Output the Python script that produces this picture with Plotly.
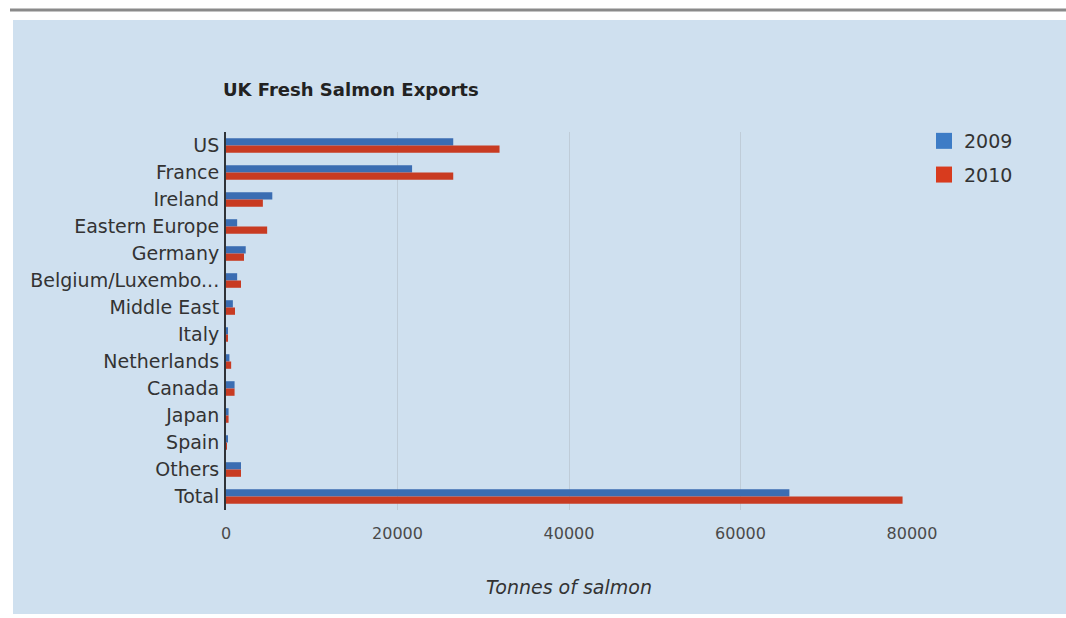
import plotly.graph_objects as go

categories = ["US", "France", "Ireland", "Eastern Europe", "Germany", "Belgium/Luxembo...",
              "Middle East", "Italy", "Netherlands", "Canada", "Japan", "Spain", "Others", "Total"]
exports_2009 = [26500, 21700, 5400, 1300, 2300, 1300, 800, 200, 400, 1000, 300, 200, 1750, 65700]
exports_2010 = [31900, 26500, 4300, 4800, 2100, 1750, 1050, 200, 600, 1000, 300, 50, 1750, 78900]
x_ticks = [0, 20000, 40000, 60000, 80000]
series_names = ["2009", "2010"]

W, H = 1066, 618
L, R, T, B = 226, 912, 132, 510
FONT = "DejaVu Sans, Verdana, sans-serif"
BAR_COLORS = ["#3b6db2", "#c83b22"]
KEY_COLORS = ["#3d7cc6", "#d83b1e"]

def px(x):
    return (x - L) / (R - L)

def py(y):
    return (B - y) / (B - T)

fig = go.Figure()
for name, vals, bc in zip(series_names, [exports_2009, exports_2010], BAR_COLORS):
    fig.add_trace(go.Bar(y=categories, x=vals, orientation="h", name=name,
                         marker=dict(color=bc, line=dict(width=0)), showlegend=False))
# legend keys (larger square swatches like the original)
for i, (name, kc) in enumerate(zip(series_names, KEY_COLORS)):
    fig.add_trace(go.Scatter(x=[None], y=[None], mode="markers", name=name,
                             marker=dict(symbol="square", size=16, color=kc),
                             legendgroup=f"g{i}", showlegend=True))

fig.update_layout(
    width=W, height=H,
    margin=dict(l=L, r=W - R, t=T, b=H - B, autoexpand=False),
    paper_bgcolor="white",
    plot_bgcolor="rgba(0,0,0,0)",
    barmode="group",
    bargap=0.46,
    bargroupgap=0.0,
    font=dict(family=FONT, size=16, color="#333"),
    xaxis=dict(range=[0, 80000], tickvals=x_ticks, tickformat="d",
               showgrid=True, gridcolor="#bfccd8", gridwidth=1, zeroline=False,
               showline=False, ticks="", ticklabelstandoff=12,
               tickfont=dict(family=FONT, size=16, color="#4a4a4a"),
               title=dict(text="Tonnes of salmon",
                          font=dict(family=FONT, size=19, color="#333", style="italic"),
                          standoff=38)),
    yaxis=dict(autorange="reversed", showgrid=False, zeroline=False,
               showline=True, linecolor="#2f3338", linewidth=2, ticks="",
               ticklabelstandoff=1, tickfont=dict(family=FONT, size=19, color="#333")),
    legend=dict(x=px(924), y=py(122), xanchor="left", yanchor="top",
                bgcolor="rgba(0,0,0,0)", font=dict(family=FONT, size=19, color="#333"),
                traceorder="grouped", tracegroupgap=6, itemsizing="trace"),
    shapes=[
        dict(type="line", xref="paper", yref="paper", x0=px(10), x1=px(W), y0=py(10), y1=py(10),
             line=dict(color="#8a8a8a", width=3), layer="below"),
        dict(type="rect", xref="paper", yref="paper", x0=px(13), x1=px(W + 2), y0=py(20), y1=py(614),
             fillcolor="#cfe0ef", line=dict(width=0), layer="below"),
    ],
    annotations=[
        dict(text="<b>UK Fresh Salmon Exports</b>", xref="paper", yref="paper",
             x=px(221), y=py(90), xanchor="left", yanchor="middle", showarrow=False,
             font=dict(family=FONT, size=18, color="#222")),
    ],
)

fig.write_html("out.html")
